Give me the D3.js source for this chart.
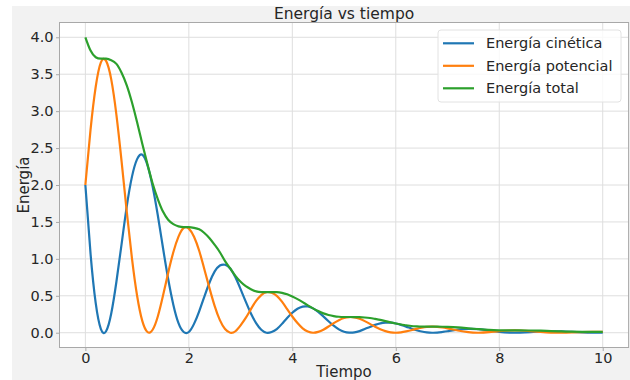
<!DOCTYPE html>
<html>
<head>
<meta charset="utf-8">
<script src="https://cdn.jsdelivr.net/npm/d3@7"></script>
<style>
  body { margin: 0; background: #fff; }
  svg { display: block; font-family: "DejaVu Sans", sans-serif; }
</style>
</head>
<body>
<script>

// valores
var tiempo = [0, 0.1, 0.2, 0.3, 0.4, 0.5, 0.6, 0.7, 0.8, 0.9,
  1.0, 1.1, 1.2, 1.3, 1.4, 1.5, 1.6, 1.7, 1.8, 1.9,
  2.0, 2.1, 2.2, 2.3, 2.4, 2.5, 2.6, 2.7, 2.8, 2.9,
  3.0, 3.1, 3.2, 3.3, 3.4, 3.5, 3.6, 3.7, 3.8, 3.9,
  4.0, 4.1, 4.2, 4.3, 4.4, 4.5, 4.6, 4.7, 4.8, 4.9,
  5.0, 5.1, 5.2, 5.3, 5.4, 5.5, 5.6, 5.7, 5.8, 5.9,
  6.0, 6.1, 6.2, 6.3, 6.4, 6.5, 6.6, 6.7, 6.8, 6.9,
  7.0, 7.2, 7.4, 7.6, 7.8, 8.0, 8.2, 8.4, 8.6, 8.8,
  9.0, 9.2, 9.4, 9.6, 9.8, 10.0];

var cinetica = [2.00, 1.07, 0.40, 0.05, 0.02, 0.26, 0.69, 1.20, 1.71, 2.11,
  2.35, 2.41, 2.27, 1.98, 1.59, 1.15, 0.73, 0.38, 0.13, 0.01,
  0.01, 0.12, 0.29, 0.49, 0.68, 0.83, 0.91, 0.92, 0.87, 0.75,
  0.59, 0.42, 0.26, 0.13, 0.04, 0.00, 0.01, 0.05, 0.12, 0.20,
  0.27, 0.324, 0.354, 0.355, 0.330, 0.282, 0.221, 0.156, 0.095, 0.046,
  0.014, 0.001, 0.004, 0.022, 0.049, 0.079, 0.106, 0.127, 0.137, 0.136,
  0.125, 0.106, 0.083, 0.057, 0.034, 0.016, 0.005, 0.000, 0.002, 0.010,
  0.020, 0.042, 0.053, 0.048, 0.031, 0.012, 0.001, 0.001, 0.008, 0.017,
  0.020, 0.018, 0.011, 0.004, 0.000, 0.001];

var potencial = [2.00, 2.75, 3.33, 3.66, 3.68, 3.43, 2.95, 2.32, 1.64, 1.01,
  0.50, 0.16, 0.01, 0.04, 0.22, 0.50, 0.81, 1.09, 1.30, 1.42,
  1.41, 1.30, 1.11, 0.86, 0.60, 0.36, 0.17, 0.05, 0.00, 0.02,
  0.10, 0.20, 0.32, 0.43, 0.51, 0.55, 0.54, 0.50, 0.42, 0.32,
  0.22, 0.131, 0.060, 0.016, 0.000, 0.011, 0.041, 0.084, 0.130, 0.170,
  0.199, 0.212, 0.208, 0.188, 0.157, 0.120, 0.081, 0.047, 0.021, 0.005,
  0.000, 0.005, 0.018, 0.034, 0.052, 0.067, 0.078, 0.082, 0.080, 0.072,
  0.059, 0.030, 0.007, 0.000, 0.007, 0.021, 0.030, 0.030, 0.022, 0.011,
  0.002, 0.000, 0.003, 0.008, 0.012, 0.012];

var total = [4.00, 3.82, 3.73, 3.71, 3.71, 3.69, 3.64, 3.52, 3.35, 3.12,
  2.85, 2.56, 2.28, 2.02, 1.81, 1.64, 1.53, 1.47, 1.44, 1.43,
  1.43, 1.42, 1.40, 1.35, 1.28, 1.19, 1.09, 0.97, 0.87, 0.77,
  0.69, 0.63, 0.59, 0.56, 0.55, 0.55, 0.55, 0.55, 0.54, 0.52,
  0.49, 0.455, 0.414, 0.371, 0.330, 0.293, 0.262, 0.240, 0.225, 0.216,
  0.213, 0.213, 0.212, 0.210, 0.206, 0.199, 0.187, 0.174, 0.158, 0.141,
  0.125, 0.111, 0.101, 0.091, 0.086, 0.083, 0.083, 0.082, 0.082, 0.081,
  0.079, 0.072, 0.060, 0.048, 0.038, 0.033, 0.031, 0.031, 0.030, 0.028,
  0.022, 0.018, 0.014, 0.012, 0.012, 0.012];

var xTicks = [0, 2, 4, 6, 8, 10];
var yTicks = [0.0, 0.5, 1.0, 1.5, 2.0, 2.5, 3.0, 3.5, 4.0];

var series = [
  { name: 'Energía cinética', values: cinetica, color: '#1f77b4' },
  { name: 'Energía potencial', values: potencial, color: '#ff7f0e' },
  { name: 'Energía total', values: total, color: '#2ca02c' }
];

var svgWidth = 630;
var svgHeight = 380;
var plot = { left: 59.5, right: 628.6, top: 22.5, bottom: 347.5 };

var svg = d3.select('body').append('svg')
  .attr('width', svgWidth)
  .attr('height', svgHeight);

// fondo de la figura
svg.append('rect').attr('width', svgWidth).attr('height', svgHeight).attr('fill', '#fff');
svg.append('rect').attr('x', 12).attr('y', 6)
  .attr('width', svgWidth - 12).attr('height', svgHeight - 6)
  .attr('fill', '#f2f2f2');
svg.append('rect')
  .attr('x', plot.left).attr('y', plot.top)
  .attr('width', plot.right - plot.left).attr('height', plot.bottom - plot.top)
  .attr('fill', '#fff');

var x = d3.scaleLinear().domain([-0.5, 10.5]).range([plot.left, plot.right]);
var y = d3.scaleLinear().domain([-0.2, 4.2]).range([plot.bottom, plot.top]);

// rejilla
var grid = svg.append('g').attr('stroke', '#dedede').attr('stroke-width', 1);
grid.selectAll('line.gx').data(xTicks).enter().append('line')
  .attr('x1', function (d) { return x(d); }).attr('x2', function (d) { return x(d); })
  .attr('y1', plot.top).attr('y2', plot.bottom);
grid.selectAll('line.gy').data(yTicks).enter().append('line')
  .attr('y1', function (d) { return y(d); }).attr('y2', function (d) { return y(d); })
  .attr('x1', plot.left).attr('x2', plot.right);

// ejes
var xAxis = svg.append('g')
  .attr('transform', 'translate(0,' + plot.bottom + ')')
  .call(d3.axisBottom(x).tickValues(xTicks).tickFormat(d3.format('d')).tickSize(3.5).tickPadding(2).tickSizeOuter(0));
var yAxis = svg.append('g')
  .attr('transform', 'translate(' + plot.left + ',0)')
  .call(d3.axisLeft(y).tickValues(yTicks).tickFormat(d3.format('.1f')).tickSize(3.5).tickPadding(2.5).tickSizeOuter(0));

[xAxis, yAxis].forEach(function (g) {
  g.select('.domain').remove();
  g.selectAll('.tick line').attr('stroke', '#aaa');
  g.selectAll('.tick text').attr('fill', '#262626')
    .style('font-family', '"DejaVu Sans", sans-serif').style('font-size', '14.5px');
});

// marco
svg.append('rect')
  .attr('x', plot.left).attr('y', plot.top)
  .attr('width', plot.right - plot.left).attr('height', plot.bottom - plot.top)
  .attr('fill', 'none').attr('stroke', '#a8a8a8').attr('stroke-width', 1);

// curvas
var line = d3.line()
  .x(function (d, i) { return x(tiempo[i]); })
  .y(function (d) { return y(d); })
  .curve(d3.curveNatural);

svg.selectAll('path.serie').data(series).enter().append('path')
  .attr('class', 'serie')
  .attr('d', function (s) { return line(s.values); })
  .attr('fill', 'none')
  .attr('stroke', function (s) { return s.color; })
  .attr('stroke-width', 2.2)
  .attr('stroke-linejoin', 'round');

// textos
svg.append('text')
  .attr('x', (plot.left + plot.right) / 2).attr('y', 18.5)
  .attr('text-anchor', 'middle').attr('fill', '#262626')
  .style('font-size', '15.5px')
  .text('Energía vs tiempo');

svg.append('text')
  .attr('x', (plot.left + plot.right) / 2).attr('y', 377)
  .attr('text-anchor', 'middle').attr('fill', '#262626')
  .style('font-size', '15px')
  .text('Tiempo');

svg.append('text')
  .attr('transform', 'translate(29,' + ((plot.top + plot.bottom) / 2) + ') rotate(-90)')
  .attr('text-anchor', 'middle').attr('fill', '#262626')
  .style('font-size', '15px')
  .text('Energía');

// leyenda
var legend = svg.append('g');
legend.append('rect')
  .attr('x', 438).attr('y', 30).attr('width', 183).attr('height', 72)
  .attr('rx', 3)
  .attr('fill', '#fff').attr('fill-opacity', 0.8)
  .attr('stroke', '#e2e2e2');

var items = legend.selectAll('g.item').data(series).enter().append('g')
  .attr('transform', function (d, i) { return 'translate(0,' + (43.3 + i * 22.5) + ')'; });
items.append('line')
  .attr('x1', 443).attr('x2', 474)
  .attr('stroke', function (d) { return d.color; })
  .attr('stroke-width', 2.2);
items.append('text')
  .attr('x', 486).attr('dy', '0.35em')
  .attr('fill', '#262626')
  .style('font-size', '14.5px')
  .text(function (d) { return d.name; });

</script>
</body>
</html>
